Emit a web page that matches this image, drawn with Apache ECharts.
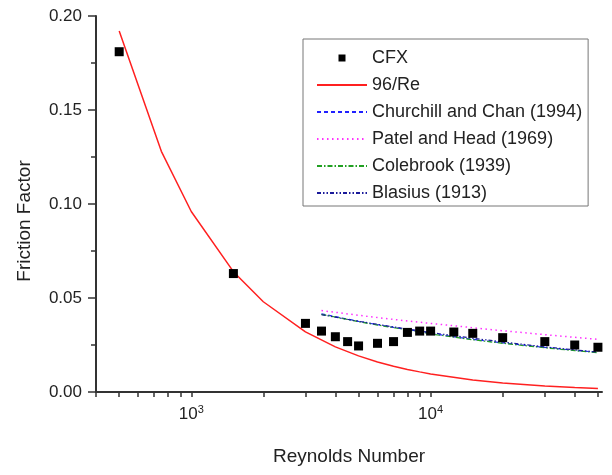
<!DOCTYPE html>
<html>
<head>
  <meta charset="utf-8">
  <title>Friction Factor</title>
  <script src="https://cdn.jsdelivr.net/npm/echarts@6/dist/echarts.min.js"></script>
  <style>
    html, body { margin: 0; padding: 0; background: #fff; }
    #chart { width: 612px; height: 475px; }
  </style>
</head>
<body>
  <div id="chart"></div>
  <script>
  // CFX results (Re, f)
  var cfxRe = [500, 1500, 3000, 3500, 4000, 4500, 5000, 6000, 7000, 8000, 9000, 10000, 12500, 15000, 20000, 30000, 40000, 50000];
  var cfxF = [0.181, 0.063, 0.0365, 0.0324, 0.0294, 0.0268, 0.0245, 0.0259, 0.0268, 0.0317, 0.0324, 0.0324, 0.0319, 0.0312, 0.0289, 0.0268, 0.0250, 0.0238];

  // laminar line 96/Re
  var lamRe = [500, 750, 1000, 1500, 2000, 3000, 4000, 5000, 6000, 7000, 8000, 9000, 10000, 15000, 20000, 30000, 40000, 50000];
  var lamF = [0.192, 0.128, 0.096, 0.064, 0.048, 0.032, 0.024, 0.0192, 0.016, 0.0137, 0.012, 0.0107, 0.0096, 0.0064, 0.0048, 0.0032, 0.0024, 0.00192];

  // turbulent correlations
  var turbRe = [3500, 4000, 5000, 6000, 7000, 8000, 9000, 10000, 15000, 20000, 30000, 40000, 50000];
  var churchillF = [0.0416, 0.0401, 0.0376, 0.0358, 0.0344, 0.0332, 0.0322, 0.0311, 0.0280, 0.0261, 0.0237, 0.0222, 0.0211];
  var patelF = [0.0433, 0.0424, 0.0408, 0.0396, 0.0386, 0.0378, 0.0371, 0.0365, 0.0342, 0.0326, 0.0305, 0.0291, 0.0280];
  var colebrookF = [0.0413, 0.0399, 0.0374, 0.0356, 0.0342, 0.0331, 0.0321, 0.0309, 0.0278, 0.0259, 0.0235, 0.0220, 0.0209];
  var blasiusF = [0.0411, 0.0398, 0.0376, 0.0360, 0.0346, 0.0335, 0.0325, 0.0316, 0.0286, 0.0266, 0.0240, 0.0224, 0.0212];

  // x axis: ticks / labels (Re)
  var xMin = 400, xMax = 52000;
  var xTickRe = [400, 500, 600, 700, 800, 900, 1000, 2000, 3000, 4000, 5000, 6000, 7000, 8000, 9000, 10000, 20000, 30000, 40000, 50000];
  var xLabelRe = [1000, 10000];

  var lg = function (v) { return Math.log10(v); };
  function pairs(xs, ys) {
    return xs.map(function (x, i) { return [lg(x), ys[i]]; });
  }
  // legend entry for a line: hide the symbol dot
  function lineItem(name) {
    return { name: name, itemStyle: { opacity: 0 } };
  }

  var font = '"Liberation Sans", Arial, sans-serif';
  var chart = echarts.init(document.getElementById('chart'));

  var option = {
    backgroundColor: '#fff',
    animation: false,
    textStyle: { fontFamily: font, color: '#222' },
    grid: { left: 96, right: 10, top: 16, bottom: 83, containLabel: false, outerBoundsMode: 'none' },
    xAxis: {
      type: 'value',
      min: lg(xMin),
      max: lg(xMax),
      name: 'Reynolds Number',
      nameLocation: 'middle',
      nameGap: 55,
      nameTextStyle: { fontSize: 19, color: '#222', fontFamily: font },
      axisLine: { lineStyle: { color: '#333', width: 2 } },
      axisTick: {
        inside: false, length: 5,
        lineStyle: { color: '#333', width: 1.5 },
        customValues: xTickRe.map(lg)
      },
      axisLabel: {
        margin: 12,
        customValues: xLabelRe.map(lg),
        formatter: function (v) {
          return '{b|10}{s|' + Math.round(v) + '}';
        },
        rich: {
          b: { fontSize: 17, color: '#222', fontFamily: font },
          s: { fontSize: 11, color: '#222', fontFamily: font, padding: [0, 0, 9, 0] }
        }
      },
      splitLine: { show: false }
    },
    yAxis: {
      type: 'value',
      min: 0,
      max: 0.2,
      interval: 0.05,
      name: 'Friction Factor',
      nameLocation: 'middle',
      nameGap: 62,
      nameTextStyle: { fontSize: 19, color: '#222', fontFamily: font, padding: [0, 34, 0, 0] },
      axisLine: { show: true, lineStyle: { color: '#333', width: 2 } },
      axisTick: { show: true, length: 8, lineStyle: { color: '#333', width: 1.5 } },
      minorTick: { show: true, splitNumber: 2, length: 5, lineStyle: { color: '#333', width: 1.5 } },
      axisLabel: {
        margin: 14, fontSize: 17, color: '#222',
        formatter: function (v) { return v.toFixed(2); }
      },
      splitLine: { show: false }
    },
    legend: {
      orient: 'vertical',
      left: 303,
      top: 39,
      padding: [9, 6, 3, 13],
      itemWidth: 50,
      itemHeight: 14,
      itemGap: 7,
      borderColor: '#777',
      borderWidth: 1,
      selectedMode: false,
      textStyle: { fontSize: 18, color: '#222', lineHeight: 20, fontFamily: font },
      data: [
        { name: 'CFX', icon: 'path://M0,0M4,4M1,1h2v2h-2z', itemStyle: { color: '#000', opacity: 1 } },
        lineItem('96/Re'),
        lineItem('Churchill and Chan (1994)'),
        lineItem('Patel and Head (1969)'),
        lineItem('Colebrook (1939)'),
        lineItem('Blasius (1913)')
      ]
    },
    series: [
      {
        name: '96/Re', type: 'line', symbol: 'none', z: 2,
        lineStyle: { color: '#ff2020', width: 1.5 },
        itemStyle: { color: '#ff2020' },
        data: pairs(lamRe, lamF)
      },
      {
        name: 'Churchill and Chan (1994)', type: 'line', symbol: 'none', z: 2,
        lineStyle: { color: '#2020ff', width: 1.2, type: [4, 3] },
        itemStyle: { color: '#2020ff' },
        data: pairs(turbRe, churchillF)
      },
      {
        name: 'Patel and Head (1969)', type: 'line', symbol: 'none', z: 2,
        lineStyle: { color: '#ff30ff', width: 1.5, type: [1.5, 3.5] },
        itemStyle: { color: '#ff30ff' },
        data: pairs(turbRe, patelF)
      },
      {
        name: 'Colebrook (1939)', type: 'line', symbol: 'none', z: 2,
        lineStyle: { color: '#22a022', width: 1.2, type: [5, 2, 1.5, 2] },
        itemStyle: { color: '#22a022' },
        data: pairs(turbRe, colebrookF)
      },
      {
        name: 'Blasius (1913)', type: 'line', symbol: 'none', z: 2,
        lineStyle: { color: '#1a1a9a', width: 1.2, type: [4, 2, 1.5, 2, 1.5, 2] },
        itemStyle: { color: '#1a1a9a' },
        data: pairs(turbRe, blasiusF)
      },
      {
        name: 'CFX', type: 'scatter', symbol: 'rect', symbolSize: 9, z: 5,
        itemStyle: { color: '#000', opacity: 1 },
        data: pairs(cfxRe, cfxF)
      }
    ]
  };

  chart.setOption(option);
  </script>
</body>
</html>
